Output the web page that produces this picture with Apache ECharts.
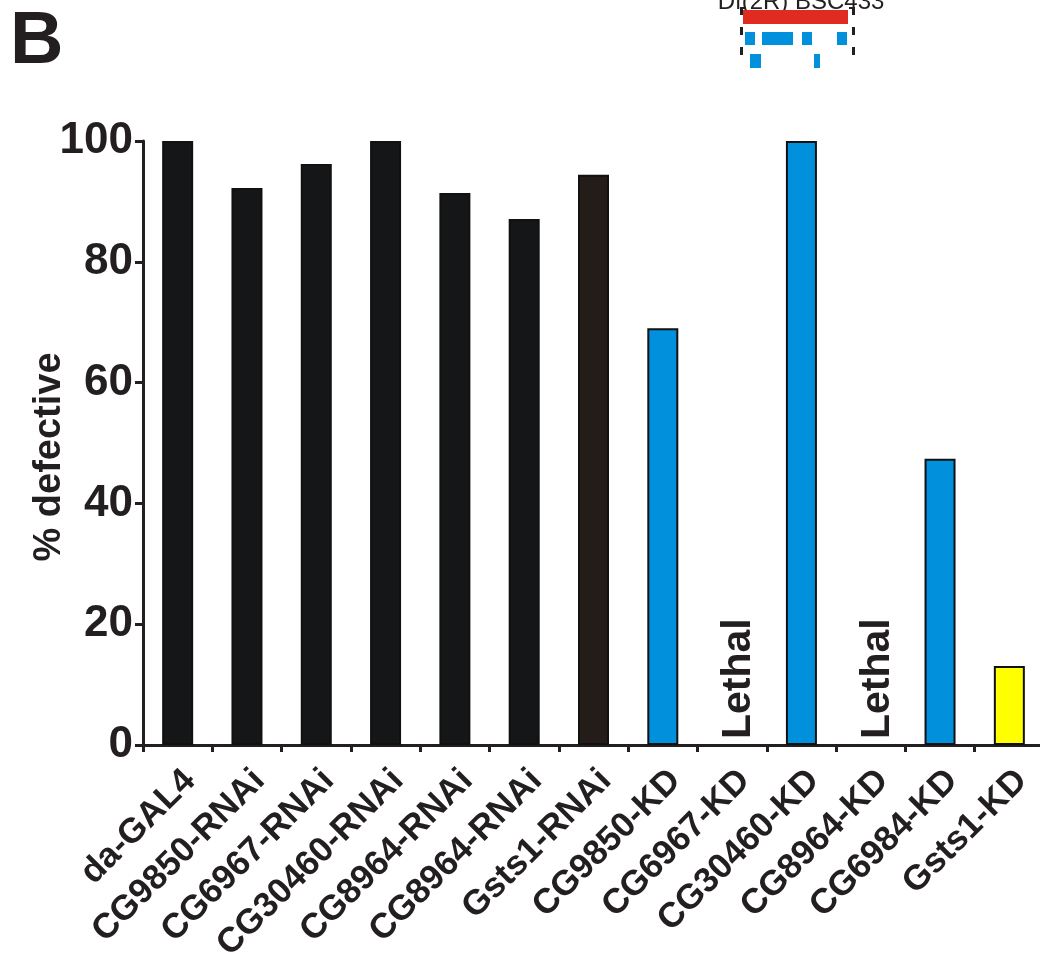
<!DOCTYPE html>
<html>
<head>
<meta charset="utf-8">
<style>
  html, body { margin: 0; padding: 0; background: #ffffff; }
  #chart { width: 1040px; height: 963px; }
</style>
<script src="https://cdn.jsdelivr.net/npm/echarts@6/dist/echarts.min.js"></script>
</head>
<body>
<div id="chart"></div>
<script>
// Genotypes along the x axis
const categories = [
  'da-GAL4', 'CG9850-RNAi', 'CG6967-RNAi', 'CG30460-RNAi', 'CG8964-RNAi',
  'CG8964-RNAi ', 'Gsts1-RNAi', 'CG9850-KD', 'CG6967-KD', 'CG30460-KD',
  'CG8964-KD', 'CG6984-KD', 'Gsts1-KD'
];
// Percentage of defective animals (null where the cross was lethal)
const defective = [100, 92.2, 96.2, 100, 91.4, 87.1, 94.4, 69, null, 100, null, 47.4, 13.1];
// Bar fill per genotype
const barColors = [
  '#151617', '#151617', '#151617', '#151617', '#151617', '#151617', '#231c18',
  '#0090dc', '#0090dc', '#0090dc', '#0090dc', '#0090dc', '#ffff00'
];
// Genotypes with no survivors
const lethal = ['CG6967-KD', 'CG8964-KD'];
// Value axis ticks
const yTicks = [0, 20, 40, 60, 80, 100];

const INK = '#231f20';
const FONT = '"Liberation Sans", Arial, sans-serif';

const chart = echarts.init(document.getElementById('chart'), null, { renderer: 'canvas' });

const barData = defective.map((v, i) => ({
  value: v,
  itemStyle: { color: barColors[i], borderColor: '#111111', borderWidth: 2 }
}));

chart.setOption({
  animation: false,
  backgroundColor: '#ffffff',
  grid: { left: 143, top: 141, width: 901, bottom: 218, containLabel: false, outerBoundsMode: 'none' },
  xAxis: {
    type: 'category',
    data: categories,
    boundaryGap: true,
    axisLine: { lineStyle: { color: INK, width: 3 } },
    axisTick: { show: true, alignWithLabel: false, length: 7, lineStyle: { color: INK, width: 3 } },
    axisLabel: {
      interval: 0,
      rotate: 45,
      margin: 18,
      verticalAlign: 'top',
      color: INK,
      fontFamily: FONT,
      fontWeight: 'bold',
      fontSize: 35,
      formatter: v => v.trim()
    },
    splitLine: { show: false }
  },
  yAxis: {
    type: 'value',
    min: 0,
    max: 100,
    interval: 20,
    name: '% defective',
    nameLocation: 'middle',
    nameGap: 74,
    nameMoveOverlap: false,
    nameRotate: 90,
    nameTextStyle: { color: INK, fontFamily: FONT, fontWeight: 'bold', fontSize: 38, padding: [0, 28, 0, 0] },
    axisLine: { show: true, lineStyle: { color: INK, width: 3 } },
    axisTick: { show: true, inside: false, length: 8, lineStyle: { color: INK, width: 3 } },
    axisLabel: {
      margin: 10,
      color: INK,
      fontFamily: FONT,
      fontWeight: 'bold',
      fontSize: 44,
      formatter: v => (yTicks.includes(v) ? String(v) : '')
    },
    splitLine: { show: false }
  },
  series: [
    {
      type: 'bar',
      data: barData,
      barWidth: 31,
      z: 2
    },
    {
      type: 'scatter',
      data: lethal.map(c => [c, 0]),
      symbolSize: 2,
      itemStyle: { color: 'rgba(0,0,0,0)', opacity: 1 },
      label: {
        show: true,
        formatter: 'Lethal',
        position: 'top',
        distance: 8,
        rotate: 90,
        align: 'left',
        verticalAlign: 'middle',
        offset: [-3, 7],
        color: INK,
        fontFamily: FONT,
        fontWeight: 'bold',
        fontSize: 41
      },
      z: 3
    }
  ],
  graphic: [
    // panel letter
    {
      type: 'text', left: 10, top: 6,
      style: { text: 'B', fill: INK, font: 'bold 74px ' + FONT }
    },
    // deficiency map inset
    {
      type: 'text', x: 801, y: 14,
      style: { text: 'Df(2R) BSC433', fill: INK, font: '24px ' + FONT, textAlign: 'center', textVerticalAlign: 'bottom' }
    },
    { type: 'rect', shape: { x: 743, y: 10, width: 105, height: 14 }, style: { fill: '#e02b20' } },
    { type: 'rect', shape: { x: 745, y: 32, width: 10, height: 13 }, style: { fill: '#0090dc' } },
    { type: 'rect', shape: { x: 762, y: 32, width: 31, height: 13 }, style: { fill: '#0090dc' } },
    { type: 'rect', shape: { x: 802, y: 32, width: 10, height: 13 }, style: { fill: '#0090dc' } },
    { type: 'rect', shape: { x: 837, y: 32, width: 10, height: 13 }, style: { fill: '#0090dc' } },
    { type: 'rect', shape: { x: 750, y: 54, width: 11, height: 14 }, style: { fill: '#0090dc' } },
    { type: 'rect', shape: { x: 814, y: 54, width: 6, height: 14 }, style: { fill: '#0090dc' } },
    { type: 'line', shape: { x1: 741.5, y1: 7, x2: 741.5, y2: 56 }, style: { stroke: INK, lineWidth: 3, lineDash: [8, 12] } },
    { type: 'line', shape: { x1: 853.5, y1: 7, x2: 853.5, y2: 56 }, style: { stroke: INK, lineWidth: 3, lineDash: [8, 12] } },
    { type: 'line', shape: { x1: 740, y1: 8, x2: 746, y2: 8 }, style: { stroke: INK, lineWidth: 2 } },
    { type: 'line', shape: { x1: 849, y1: 8, x2: 855, y2: 8 }, style: { stroke: INK, lineWidth: 2 } }
  ]
});
</script>
</body>
</html>
